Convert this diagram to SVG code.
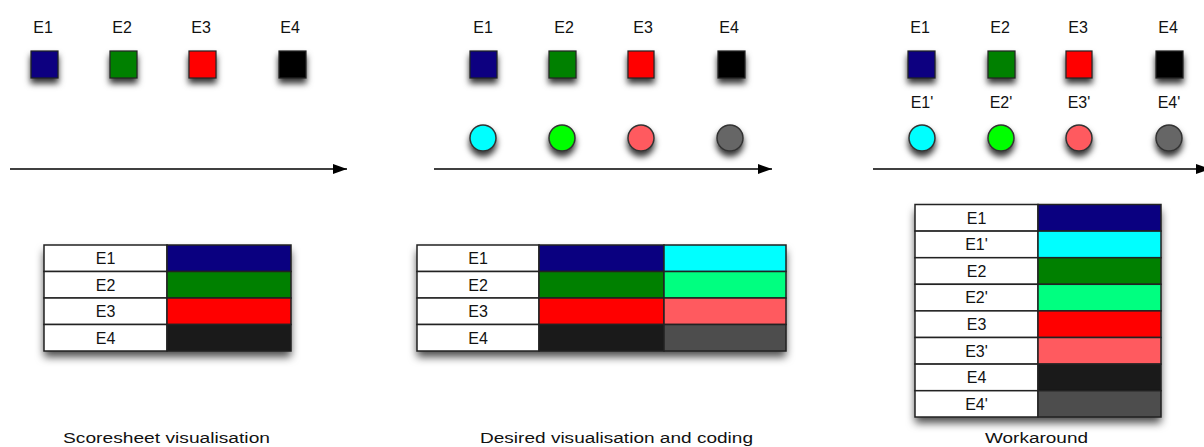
<svg xmlns="http://www.w3.org/2000/svg" width="1204" height="447" viewBox="0 0 1204 447">
<defs>
<filter id="sh" x="-50%" y="-50%" width="200%" height="220%">
<feDropShadow dx="0" dy="5" stdDeviation="3" flood-color="#000" flood-opacity="0.8"/>
</filter>
<filter id="tsh" x="-10%" y="-10%" width="120%" height="130%">
<feDropShadow dx="0" dy="6" stdDeviation="4" flood-color="#000" flood-opacity="0.7"/>
</filter>
<marker id="ah" markerWidth="14" markerHeight="10" refX="14" refY="5" orient="auto" markerUnits="userSpaceOnUse">
<path d="M0,0 L14,5 L0,10 Z" fill="#000"/>
</marker>
</defs>
<style>
text{font-family:"Liberation Sans",Arial,sans-serif;fill:#111;}
.lbl{font-size:16px;text-anchor:middle;}
.cap{font-size:15.5px;}
.sq{stroke:#222;stroke-width:1.2;filter:url(#sh);}
.ci{stroke:#333;stroke-width:1.5;filter:url(#sh);}
.cell{stroke:#222;stroke-width:1.5;}
.conn{stroke:#000;stroke-width:1.5;fill:none;marker-end:url(#ah);}
</style>

<!-- Section 1 -->
<g id="s1-e1"><text class="lbl" x="43" y="33">E1</text><rect class="sq" x="31" y="51" width="27" height="27" fill="#0a0080"/></g>
<g id="s1-e2"><text class="lbl" x="122" y="33">E2</text><rect class="sq" x="110" y="51" width="27" height="27" fill="#008000"/></g>
<g id="s1-e3"><text class="lbl" x="201" y="33">E3</text><rect class="sq" x="189" y="51" width="27" height="27" fill="#ff0000"/></g>
<g id="s1-e4"><text class="lbl" x="290" y="33">E4</text><rect class="sq" x="279" y="51" width="27" height="27" fill="#000000"/></g>

<g id="s1-table">
<rect x="44" y="245" width="247" height="106" fill="#fff" filter="url(#tsh)"/>
<rect class="cell" x="44" y="245" width="123" height="26.5" fill="#fff"/>
<rect class="cell" x="44" y="271.5" width="123" height="26.5" fill="#fff"/>
<rect class="cell" x="44" y="298" width="123" height="26.5" fill="#fff"/>
<rect class="cell" x="44" y="324.5" width="123" height="26.5" fill="#fff"/>
<rect class="cell" x="167" y="245" width="124" height="26.5" fill="#0a0080"/>
<rect class="cell" x="167" y="271.5" width="124" height="26.5" fill="#008000"/>
<rect class="cell" x="167" y="298" width="124" height="26.5" fill="#ff0000"/>
<rect class="cell" x="167" y="324.5" width="124" height="26.5" fill="#1a1a1a"/>
<text class="lbl" x="105.5" y="264">E1</text>
<text class="lbl" x="105.5" y="290.5">E2</text>
<text class="lbl" x="105.5" y="317">E3</text>
<text class="lbl" x="105.5" y="343.5">E4</text>
</g>
<g id="s1-caption"><text class="cap" x="63" y="443" textLength="207" lengthAdjust="spacingAndGlyphs">Scoresheet visualisation</text></g>

<!-- Section 2 -->
<g id="s2-e1"><text class="lbl" x="483" y="33">E1</text><rect class="sq" x="470" y="51" width="27" height="27" fill="#0a0080"/><circle class="ci" cx="483" cy="138" r="13" fill="#00ffff"/></g>
<g id="s2-e2"><text class="lbl" x="564" y="33">E2</text><rect class="sq" x="549" y="51" width="27" height="27" fill="#008000"/><circle class="ci" cx="562" cy="138" r="13" fill="#00ff00"/></g>
<g id="s2-e3"><text class="lbl" x="643" y="33">E3</text><rect class="sq" x="628" y="51" width="26" height="27" fill="#ff0000"/><circle class="ci" cx="641" cy="138" r="13" fill="#ff5a5f"/></g>
<g id="s2-e4"><text class="lbl" x="729" y="33">E4</text><rect class="sq" x="718" y="51" width="27" height="27" fill="#000000"/><circle class="ci" cx="730" cy="138" r="13" fill="#666666"/></g>

<g id="s2-table">
<rect x="417" y="245" width="369" height="106" fill="#fff" filter="url(#tsh)"/>
<rect class="cell" x="417" y="245" width="122" height="26.5" fill="#fff"/>
<rect class="cell" x="417" y="271.5" width="122" height="26.5" fill="#fff"/>
<rect class="cell" x="417" y="298" width="122" height="26.5" fill="#fff"/>
<rect class="cell" x="417" y="324.5" width="122" height="26.5" fill="#fff"/>
<rect class="cell" x="539" y="245" width="125" height="26.5" fill="#0a0080"/>
<rect class="cell" x="539" y="271.5" width="125" height="26.5" fill="#008000"/>
<rect class="cell" x="539" y="298" width="125" height="26.5" fill="#ff0000"/>
<rect class="cell" x="539" y="324.5" width="125" height="26.5" fill="#1a1a1a"/>
<rect class="cell" x="664" y="245" width="122" height="26.5" fill="#00ffff"/>
<rect class="cell" x="664" y="271.5" width="122" height="26.5" fill="#00ff80"/>
<rect class="cell" x="664" y="298" width="122" height="26.5" fill="#ff5a5f"/>
<rect class="cell" x="664" y="324.5" width="122" height="26.5" fill="#4d4d4d"/>
<text class="lbl" x="478" y="264">E1</text>
<text class="lbl" x="478" y="290.5">E2</text>
<text class="lbl" x="478" y="317">E3</text>
<text class="lbl" x="478" y="343.5">E4</text>
</g>
<g id="s2-caption"><text class="cap" x="480" y="443" textLength="273" lengthAdjust="spacingAndGlyphs">Desired visualisation and coding</text></g>

<!-- Section 3 -->
<g id="s3-e1"><text class="lbl" x="920" y="33">E1</text><rect class="sq" x="908" y="51" width="27" height="27" fill="#0a0080"/><text class="lbl" x="922" y="108">E1'</text><circle class="ci" cx="922" cy="138" r="13" fill="#00ffff"/></g>
<g id="s3-e2"><text class="lbl" x="1000" y="33">E2</text><rect class="sq" x="988" y="51" width="27" height="27" fill="#008000"/><text class="lbl" x="1001" y="108">E2'</text><circle class="ci" cx="1001" cy="138" r="13" fill="#00ff00"/></g>
<g id="s3-e3"><text class="lbl" x="1078" y="33">E3</text><rect class="sq" x="1066" y="51" width="26" height="27" fill="#ff0000"/><text class="lbl" x="1079" y="108">E3'</text><circle class="ci" cx="1079" cy="138" r="13" fill="#ff5a5f"/></g>
<g id="s3-e4"><text class="lbl" x="1168" y="33">E4</text><rect class="sq" x="1156" y="51" width="27" height="27" fill="#000000"/><text class="lbl" x="1169" y="108">E4'</text><circle class="ci" cx="1169" cy="138" r="13" fill="#666666"/></g>

<g id="s3-table">
<rect x="915" y="204.5" width="246" height="212.5" fill="#fff" filter="url(#tsh)"/>
<rect class="cell" x="915" y="204.5" width="123" height="26.6" fill="#fff"/>
<rect class="cell" x="915" y="231.1" width="123" height="26.6" fill="#fff"/>
<rect class="cell" x="915" y="257.7" width="123" height="26.6" fill="#fff"/>
<rect class="cell" x="915" y="284.3" width="123" height="26.6" fill="#fff"/>
<rect class="cell" x="915" y="310.9" width="123" height="26.6" fill="#fff"/>
<rect class="cell" x="915" y="337.5" width="123" height="26.6" fill="#fff"/>
<rect class="cell" x="915" y="364.1" width="123" height="26.6" fill="#fff"/>
<rect class="cell" x="915" y="390.7" width="123" height="26.3" fill="#fff"/>
<rect class="cell" x="1038" y="204.5" width="123" height="26.6" fill="#0a0080"/>
<rect class="cell" x="1038" y="231.1" width="123" height="26.6" fill="#00ffff"/>
<rect class="cell" x="1038" y="257.7" width="123" height="26.6" fill="#008000"/>
<rect class="cell" x="1038" y="284.3" width="123" height="26.6" fill="#00ff80"/>
<rect class="cell" x="1038" y="310.9" width="123" height="26.6" fill="#ff0000"/>
<rect class="cell" x="1038" y="337.5" width="123" height="26.6" fill="#ff5a5f"/>
<rect class="cell" x="1038" y="364.1" width="123" height="26.6" fill="#1a1a1a"/>
<rect class="cell" x="1038" y="390.7" width="123" height="26.3" fill="#4d4d4d"/>
<text class="lbl" x="976.5" y="223.5">E1</text>
<text class="lbl" x="976.5" y="250.1">E1'</text>
<text class="lbl" x="976.5" y="276.7">E2</text>
<text class="lbl" x="976.5" y="303.3">E2'</text>
<text class="lbl" x="976.5" y="329.9">E3</text>
<text class="lbl" x="976.5" y="356.5">E3'</text>
<text class="lbl" x="976.5" y="383.1">E4</text>
<text class="lbl" x="976.5" y="409.6">E4'</text>
</g>
<g id="s3-caption"><text class="cap" x="985" y="443" textLength="103" lengthAdjust="spacingAndGlyphs">Workaround</text></g>

<g id="connectors">
<line class="conn" x1="10" y1="169" x2="347" y2="169"/>
<line class="conn" x1="434" y1="169" x2="772" y2="169"/>
<line class="conn" x1="873" y1="169" x2="1210" y2="169"/>
</g>
</svg>
